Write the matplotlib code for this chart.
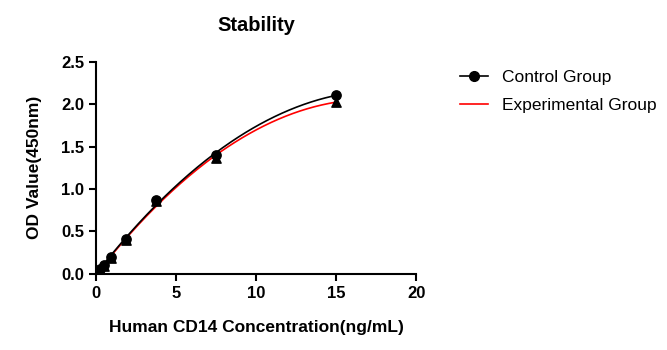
import matplotlib
matplotlib.use('Agg')
import matplotlib.pyplot as plt
import numpy as np

plt.rcParams['font.family'] = ['Liberation Sans', 'DejaVu Sans']

# Data
conc = [0, 0.234, 0.469, 0.938, 1.875, 3.75, 7.5, 15]
control = [0.02, 0.05, 0.10, 0.20, 0.41, 0.87, 1.40, 2.11]
experimental = [0.02, 0.04, 0.09, 0.18, 0.40, 0.86, 1.37, 2.03]

fig = plt.figure(figsize=(6.67, 3.5), dpi=100)
ax = fig.add_axes([0.144, 0.218, 0.48, 0.605])

# Smooth fitted curves (quadratic fit through the points)
xs = np.linspace(0, 15, 200)
c_fit = np.polyfit(conc, control, 2)
e_fit = np.polyfit(conc, experimental, 2)
ax.plot(xs, np.polyval(c_fit, xs), color='black', lw=1.2, zorder=3)
ax.plot(xs, np.polyval(e_fit, xs), color='red', lw=1.2, zorder=2)

ax.scatter(conc, experimental, marker='^', color='black', s=45, zorder=4)
ax.scatter(conc, control, marker='o', color='black', s=45, zorder=5)

ax.set_xlim(0, 20)
ax.set_ylim(0, 2.5)
ax.set_xticks([0, 5, 10, 15, 20])
ax.set_yticks([0, 0.5, 1.0, 1.5, 2.0, 2.5])
ax.set_yticklabels(['0.0', '0.5', '1.0', '1.5', '2.0', '2.5'])

for s in ['top', 'right']:
    ax.spines[s].set_visible(False)
for s in ['left', 'bottom']:
    ax.spines[s].set_linewidth(1.5)
ax.tick_params(width=1.5, length=5, labelsize=12)
for lab in ax.get_xticklabels() + ax.get_yticklabels():
    lab.set_fontweight('bold')

ax.set_title('Stability', fontsize=14.5, fontweight='bold', pad=22)
ax.set_xlabel('Human CD14 Concentration(ng/mL)', fontsize=12.5, fontweight='bold', labelpad=14)
ax.set_ylabel('OD Value(450nm)', fontsize=12.5, fontweight='bold', labelpad=14)

# Legend
h1, = ax.plot([], [], color='black', marker='o', ms=7, lw=1.2)
h2, = ax.plot([], [], color='red', lw=1.2)
fig.legend([h1, h2], ['Control Group', 'Experimental Group'],
           loc='upper left', bbox_to_anchor=(0.666, 0.845), frameon=False,
           fontsize=12.5, handlelength=1.6, labelspacing=0.75)

fig.savefig('out.png', dpi=100, facecolor='white')
